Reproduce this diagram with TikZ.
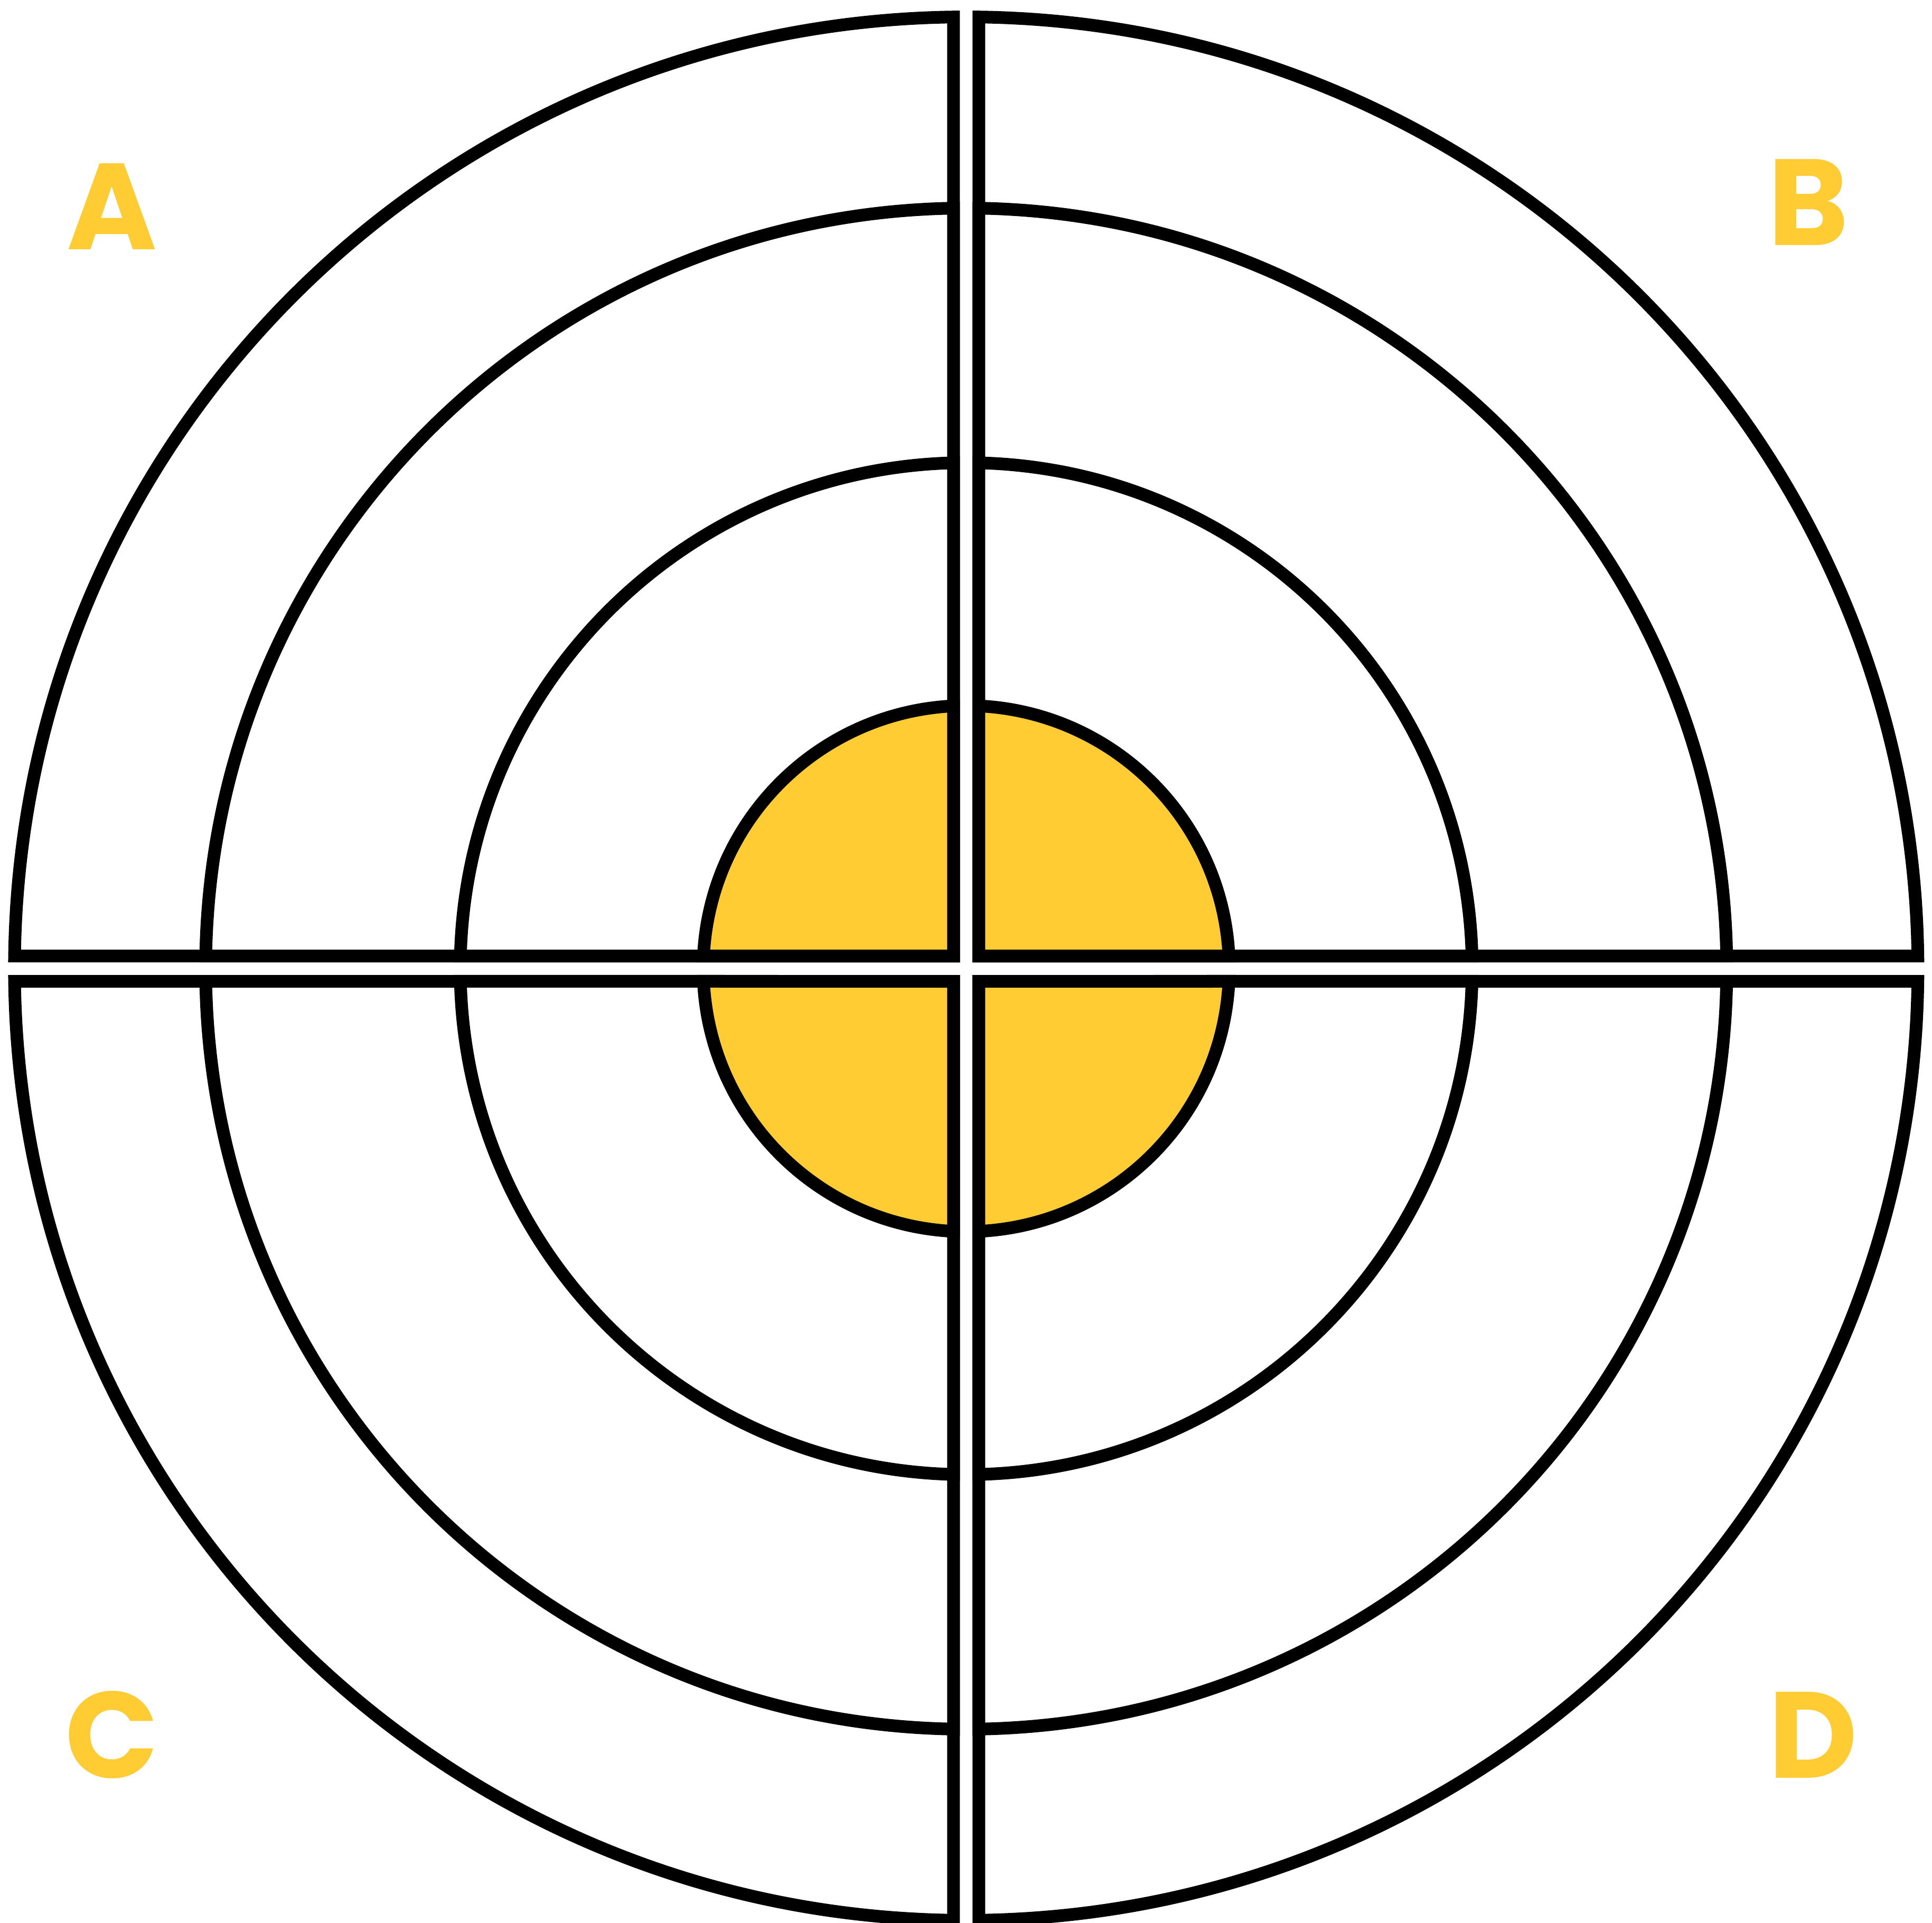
\documentclass[tikz,border=0pt]{standalone}
\usepackage{fontspec}
\newfontfamily\labelfont{Poppins}
\definecolor{yel}{HTML}{FFCC33}
\tikzset{
  piece/.style={draw=black, line width=2.4mm, line join=miter},
  lbl/.style={text=yel, anchor=base, inner sep=0pt, font=\labelfont\bfseries\fontsize{66}{66}\selectfont}
}
\begin{document}
\begin{tikzpicture}[x=1mm,y=1mm]
\useasboundingbox (-182.94,-180.6) rectangle (182.86,183.4);
\fill[white] (-182.94,-180.6) rectangle (182.86,183.4);
\foreach \ph/\sx/\sy in {0/1/1, 90/-1/1, 180/-1/-1, 270/1/-1} {
  \foreach \r/\c in {180.2/white, 144.0/white, 95.8/white, 49.8/yel} {
    \pgfmathsetmacro\a{asin(2.4/\r)}
    \draw[piece, fill=\c] (\sx*2.4,\sy*2.4) -- ({\ph+\a}:\r)
      arc[start angle={\ph+\a}, end angle={\ph+90-\a}, radius=\r] -- cycle;
  }
}
\node[lbl] (la) at (-161.7,136.1) {A};
\node[lbl] (lb) at (159.5,136.9) {B};
\node[lbl] (lc) at (-161.7,-153.2) {C};
\node[lbl] (ld) at (160.3,-153.2) {D};
\end{tikzpicture}
\end{document}
